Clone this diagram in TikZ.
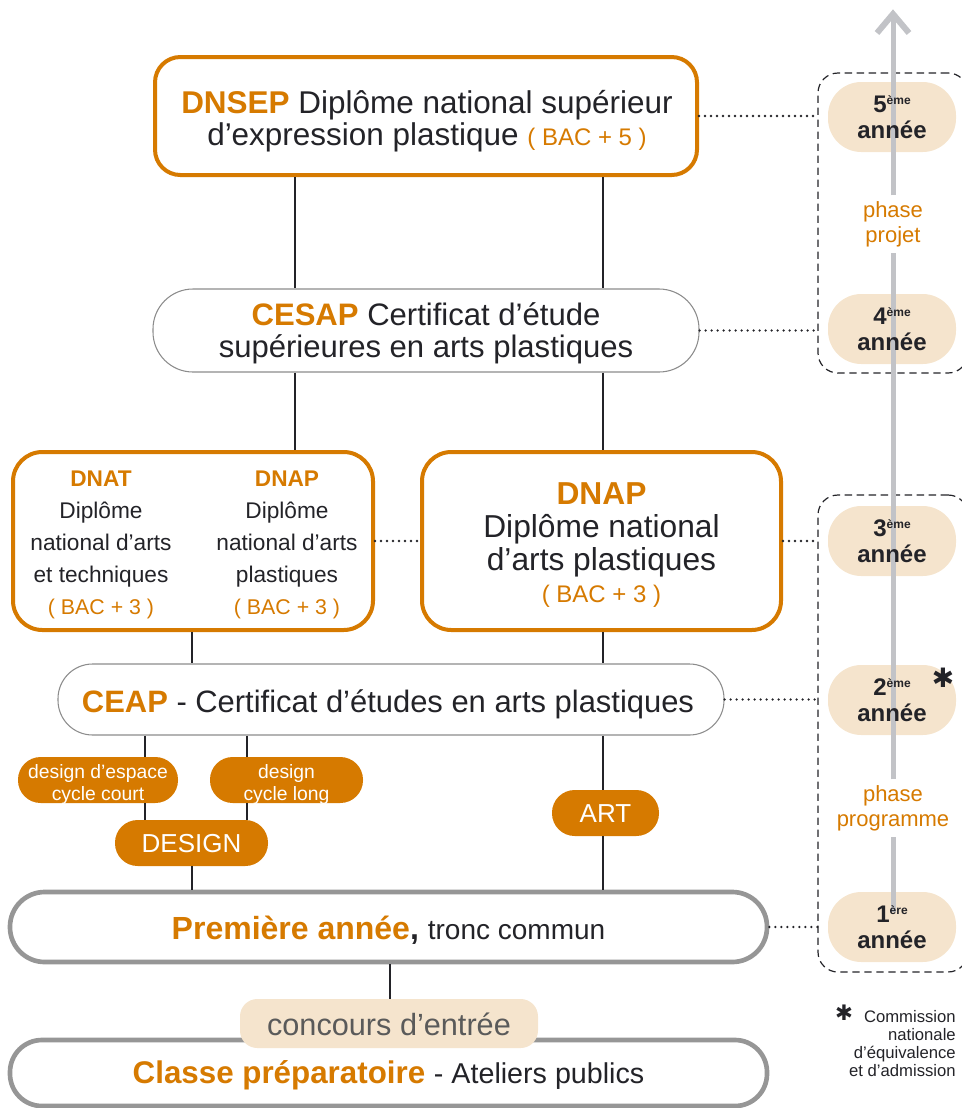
\documentclass[tikz,border=0pt]{standalone}
\usepackage{fontspec}
\setmainfont{Liberation Sans}
\newfontfamily\symfont{DejaVu Sans}
\usetikzlibrary{calc}
\definecolor{orng}{RGB}{214,122,0}
\definecolor{beige}{RGB}{245,228,205}
\definecolor{bordgray}{RGB}{150,150,150}
\definecolor{thingray}{RGB}{140,140,140}
\definecolor{arrgray}{RGB}{194,195,199}
\definecolor{ink}{RGB}{35,35,40}
\definecolor{concgray}{RGB}{90,90,90}
\newcommand\fs[2]{\fontsize{#1}{#2}\selectfont}
\newcommand\yr[2]{\bfseries #1\raisebox{6.5pt}{\fs{9}{9}\bfseries #2}\\\bfseries année}
\begin{document}
\begin{tikzpicture}[x=0.75pt,y=-0.75pt,
 box/.style={rectangle, inner sep=0pt},
 txt/.style={align=center, text=ink, inner sep=0pt},
 obox/.style={box, draw=orng, line width=3pt, fill=white},
 tbox/.style={box, draw=thingray, line width=0.8pt, fill=white},
 gbox/.style={box, draw=bordgray, line width=3.5pt, fill=white},
 opill/.style={box, fill=orng, rounded corners=17pt, minimum height=34.5pt},
 ptxt/.style={txt, text=white},
 yrbox/.style={rectangle, fill=beige, minimum width=96pt, minimum height=52.5pt, rounded corners=25pt, inner sep=0pt},
 yrtext/.style={align=center, text=ink, inner sep=0pt, font=\fs{18}{19}\bfseries},
 conn/.style={draw=ink, line width=1.5pt},
 dots/.style={draw=ink, line width=1.9pt, dash pattern=on 0pt off 4.5pt, line cap=round},
 grp/.style={rectangle, draw=ink, line width=0.9pt, dash pattern=on 5.5pt off 3.5pt, rounded corners=15pt, inner sep=0pt},
 tl/.style={draw=arrgray, line width=3.75pt},
 phase/.style={align=center, text=orng, font=\fs{16.5}{19}, inner xsep=0pt, inner ysep=4pt},
]
\useasboundingbox (0,0) rectangle (962,1108);
\clip (0,0) rectangle (962,1108);

% dashed groups
\node[grp, minimum width=112.5pt, minimum height=225pt] (g1) at (893,223) {};
\node[grp, minimum width=112.5pt, minimum height=357.75pt] (g2) at (893,733.5) {};

% main boxes
\node[obox, rounded corners=19pt, minimum width=406.5pt, minimum height=88.5pt] (dnsep) at (426,116) {};
\node[txt, font=\fs{23.6}{24}] (dnsepT) at (427,121)
 {{\bfseries\color{orng}DNSEP} Diplôme national supérieur\\d’expression plastique {\fs{18}{24}\color{orng}( BAC + 5 )}};
\node[tbox, rounded corners=30pt, minimum width=409.5pt, minimum height=62.25pt] (cesap) at (426,330.5) {};
\node[txt, font=\fs{23.3}{24}] (cesapT) at (426,333.5)
 {{\bfseries\color{orng}CESAP} Certificat d’étude\\supérieures en arts plastiques};
\node[obox, rounded corners=22pt, minimum width=270pt, minimum height=133.5pt] (dnat) at (193,541) {};
\node[txt, font=\fs{17}{24}] (dnatT) at (101,545)
 {{\bfseries\color{orng}DNAT}\\Diplôme\\national d’arts\\et techniques\\{\fs{16}{24}\color{orng}( BAC + 3 )}};
\node[txt, font=\fs{17}{24}] (dnapT1) at (287,545)
 {{\bfseries\color{orng}DNAP}\\Diplôme\\national d’arts\\plastiques\\{\fs{16}{24}\color{orng}( BAC + 3 )}};
\node[obox, rounded corners=22pt, minimum width=269.25pt, minimum height=133.5pt] (dnap) at (601.5,541) {};
\node[txt, font=\fs{23.8}{24.5}] (dnapT) at (601.5,545.5)
 {{\bfseries\color{orng}DNAP}\\Diplôme national\\d’arts plastiques\\{\fs{18}{24.5}\color{orng}( BAC + 3 )}};
\node[tbox, rounded corners=26pt, minimum width=499.5pt, minimum height=53.25pt] (ceap) at (391,699.5) {};
\node[txt, font=\fs{23.2}{24}] (ceapT) at (388,704.5)
 {{\bfseries\color{orng}CEAP} - Certificat d’études en arts plastiques};
\node[opill, minimum width=120pt] (dsp1) at (98,780) {};
\node[ptxt, font=\fs{14.5}{16.5}] (dsp1T) at (98,784) {design d’espace\\cycle court};
\node[opill, minimum width=114.75pt] (dsp2) at (286.5,780) {};
\node[ptxt, font=\fs{14.5}{16.5}] (dsp2T) at (286.5,784) {design\\cycle long};
\node[opill, minimum width=114.75pt] (design) at (191.5,843) {};
\node[ptxt, font=\fs{19.5}{20}] (designT) at (191.5,844) {DESIGN};
\node[opill, minimum width=80.25pt] (art) at (605.5,813) {};
\node[ptxt, font=\fs{19.5}{20}] (artT) at (605.5,814) {ART};
\node[gbox, rounded corners=26pt, minimum width=567.75pt, minimum height=52.5pt] (prem) at (388.5,927) {};
\node[txt, font=\fs{24}{24}] (premT) at (388.5,930)
 {{\bfseries\color{orng}Première année}\textbf{,} {\fs{21}{24}tronc commun}};
\node[gbox, rounded corners=24pt, minimum width=567.75pt, minimum height=49.5pt] (classe) at (388.5,1073) {};
\node[txt, font=\fs{23.5}{24}] (classeT) at (388.5,1075)
 {{\bfseries\color{orng}Classe préparatoire} {\fs{21.5}{24}- Ateliers publics}};
\node[box, fill=beige, rounded corners=13pt, minimum width=223.5pt, minimum height=36.75pt] (conc) at (389,1023.5) {};
\node[txt, text=concgray, font=\fs{23}{24}] (concT) at (389,1024.5) {concours d’entrée};

% vertical connectors
\coordinate (xa) at (295,0);
\coordinate (xb) at (603,0);
\coordinate (xc) at (192,0);
\coordinate (xd) at (145,0);
\coordinate (xe) at (247,0);
\coordinate (xf) at (390,0);
\draw[conn] (dnsep.south -| xa) -- (cesap.north -| xa);
\draw[conn] (dnsep.south -| xb) -- (cesap.north -| xb);
\draw[conn] (cesap.south -| xa) -- (dnat.north -| xa);
\draw[conn] (cesap.south -| xb) -- (dnap.north -| xb);
\draw[conn] (dnat.south -| xc) -- (ceap.north -| xc);
\draw[conn] (dnap.south -| xb) -- (ceap.north -| xb);
\draw[conn] (ceap.south -| xd) -- (dsp1.north -| xd);
\draw[conn] (ceap.south -| xe) -- (dsp2.north -| xe);
\draw[conn] (ceap.south -| xb) -- (art.north -| xb);
\draw[conn] (dsp1.south -| xd) -- (design.north -| xd);
\draw[conn] (dsp2.south -| xe) -- (design.north -| xe);
\draw[conn] (design.south -| xc) -- (prem.north -| xc);
\draw[conn] (art.south -| xb) -- (prem.north -| xb);
\draw[conn] (prem.south -| xf) -- (conc.north -| xf);

% dotted connectors
\draw[dots] (dnsep.east) -- (dnsep.east -| g1.west);
\draw[dots] (cesap.east) -- (cesap.east -| g1.west);
\draw[dots] (dnat.east) -- (dnap.west);
\draw[dots] (dnap.east) -- (dnap.east -| g2.west);
\draw[dots] (ceap.east) -- (ceap.east -| g2.west);
\draw[dots] (prem.east) -- (prem.east -| g2.west);

% year boxes
\node[yrbox] (y5) at (892,117) {};
\node[yrbox] (y4) at (892,329) {};
\node[yrbox] (y3) at (892,541) {};
\node[yrbox] (y2) at (892,700) {};
\node[yrbox] (y1) at (892,927) {};

% timeline
\node[phase] (ppj) at (893,224) {phase\\projet};
\node[phase] (ppg) at (893,808) {phase\\programme};
\coordinate (tl0) at (893,912);
\coordinate (tip) at (893,14);
\draw[tl] (tl0) -- (ppg.south);
\draw[tl] (ppg.north) -- (ppj.south);
\draw[tl] (ppj.north) -- (tip);
\draw[tl, line width=4.5pt, miter limit=10] ([shift={(-16,19)}]tip) -- (tip) -- ([shift={(16,19)}]tip);

% year texts
\node[yrtext] (y5T) at (y5) {\yr{5}{ème}};
\node[yrtext] (y4T) at (y4) {\yr{4}{ème}};
\node[yrtext] (y3T) at (y3) {\yr{3}{ème}};
\node[yrtext] (y2T) at (y2) {\yr{2}{ème}};
\node[yrtext] (y1T) at (y1) {\yr{1}{ère}};
\node[text=ink, font=\symfont\fs{20}{20}, inner sep=0pt] (ast2) at (943,678) {✱};

% footnote
\node[anchor=north east, align=right, text=ink, font=\fs{12.5}{13.5}, inner sep=0pt] (fn) at (956,1010)
 {Commission\\nationale\\d’équivalence\\et d’admission};
\node[text=ink, font=\symfont\fs{16}{16}, inner sep=0pt] (ast1) at (844,1013) {✱};
\end{tikzpicture}
\end{document}
